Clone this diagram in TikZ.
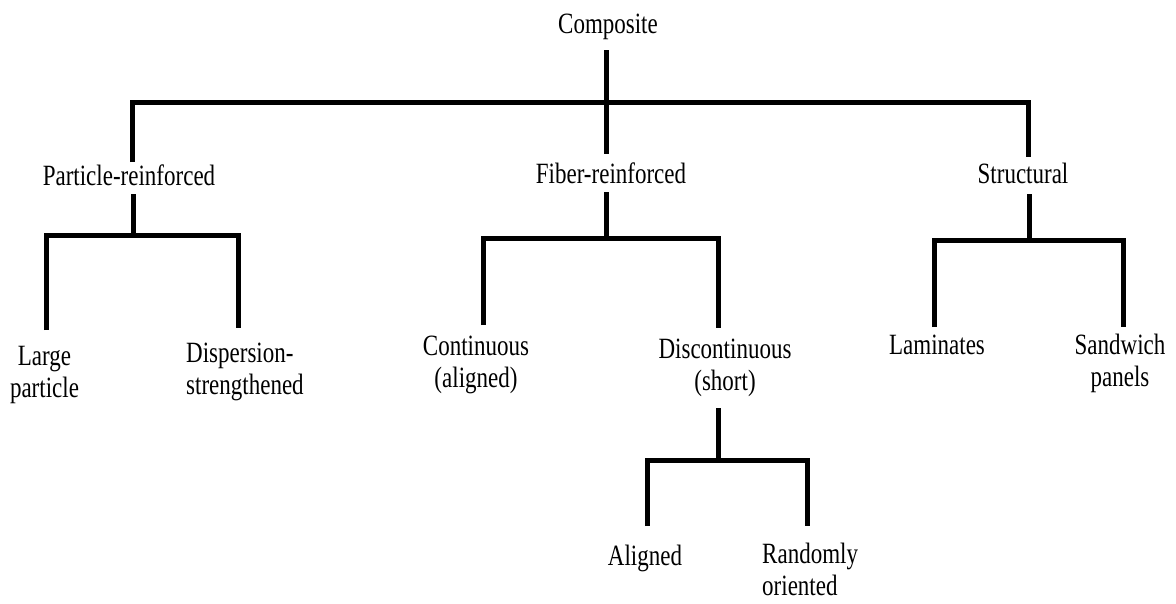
\documentclass[tikz,border=0pt]{standalone}
\usepackage{fontspec}
\setmainfont{Liberation Serif}
% label: tall, narrow serif text; first-line baseline is the box baseline
\newcommand{\lbl}[2][c]{\scalebox{1}[1.28]{\begin{tabular}[t]{@{}#1@{}}#2\end{tabular}}}
\begin{document}
\begin{tikzpicture}[x=1pt,y=-1pt,
  every node/.style={inner sep=0pt, font=\fontsize{23}{25}\selectfont},
  link/.style={line width=5pt, line join=miter, line cap=butt}]
\useasboundingbox (0,0) rectangle (1176,603);

% ---- labels ----
\node[anchor=base] (comp) at (608,33) {\lbl{Composite}};
\node[anchor=base] (pr) at (129,185) {\lbl{Particle-reinforced}};
\node[anchor=base] (fr) at (611,183) {\lbl{Fiber-reinforced}};
\node[anchor=base] (st) at (1023,183) {\lbl{Structural}};
\node[anchor=base] (lp) at (44.5,365) {\lbl{Large\\particle}};
\node[anchor=base west] (ds) at (186,362) {\lbl[l]{Dispersion-\\strengthened}};
\node[anchor=base] (co) at (476,355) {\lbl{Continuous\\(aligned)}};
\node[anchor=base] (dc) at (725,358) {\lbl{Discontinuous\\(short)}};
\node[anchor=base] (la) at (937,354) {\lbl{Laminates}};
\node[anchor=base] (sw) at (1120,354) {\lbl{Sandwich\\panels}};
\node[anchor=base] (al) at (645,565) {\lbl{Aligned}};
\node[anchor=base west] (ro) at (762,563) {\lbl[l]{Randomly\\oriented}};

% ---- connector end points and junctions ----
\coordinate (comp-foot) at (606,50);
\coordinate (j0) at (606,102);
\coordinate (pr-head) at (132,162);
\coordinate (fr-head) at (606,154);
\coordinate (st-head) at (1028,157);

\coordinate (pr-foot) at (133,194);
\coordinate (j1) at (133,235);
\coordinate (lp-head) at (46,330);
\coordinate (ds-head) at (238,328);

\coordinate (fr-foot) at (606,192);
\coordinate (j2) at (606,238);
\coordinate (co-head) at (483,325);
\coordinate (dc-head) at (718,328);

\coordinate (st-foot) at (1029,194);
\coordinate (j3) at (1029,240);
\coordinate (la-head) at (934,327);
\coordinate (sw-head) at (1123,327);

\coordinate (dc-foot) at (718,408);
\coordinate (j4) at (718,460);
\coordinate (al-head) at (647,526);
\coordinate (ro-head) at (807,526);

% ---- connectors ----
\draw[link] (comp-foot) -- (fr-head);
\draw[link] (pr-head) |- (j0) -| (st-head);

\draw[link] (pr-foot) -- (j1);
\draw[link] (lp-head) |- (j1) -| (ds-head);

\draw[link] (fr-foot) -- (j2);
\draw[link] (co-head) |- (j2) -| (dc-head);

\draw[link] (st-foot) -- (j3);
\draw[link] (la-head) |- (j3) -| (sw-head);

\draw[link] (dc-foot) -- (j4);
\draw[link] (al-head) |- (j4) -| (ro-head);
\end{tikzpicture}
\end{document}
